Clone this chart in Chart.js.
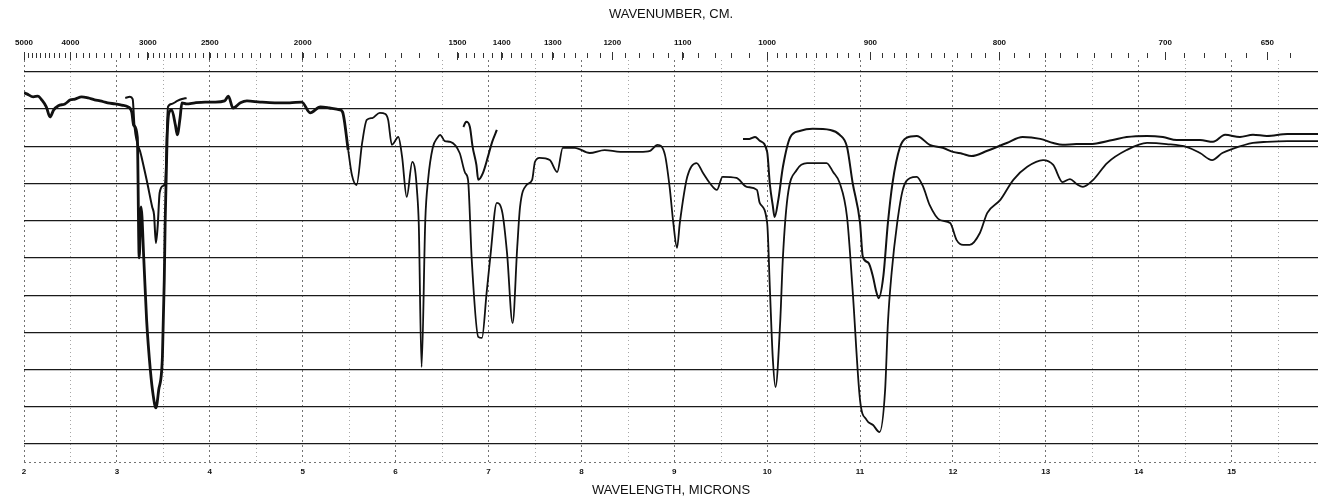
<!DOCTYPE html>
<html>
<head>
<meta charset="utf-8">
<script src="https://cdn.jsdelivr.net/npm/chart.js@4.4.1/dist/chart.umd.min.js"></script>
<style>
  html, body { margin: 0; padding: 0; background: #fff; }
  #wrap { width: 1321px; height: 501px; }
</style>
</head>
<body>
<div id="wrap"><canvas id="ir-chart" width="1321" height="501"></canvas></div>
<script>
// axis ticks
const wavelengthTicks = [2, 3, 4, 5, 6, 7, 8, 9, 10, 11, 12, 13, 14, 15];
const wavenumberLabels = [5000, 4000, 3000, 2500, 2000, 1500, 1400, 1300, 1200, 1100, 1000, 900, 800, 700, 650];
const transmittanceLines = [0, 10, 20, 30, 40, 50, 60, 70, 80, 90, 100];

// main trace (wavelength in microns, transmittance %)
const mainMicrons = [2.00, 2.03, 2.10, 2.15, 2.19, 2.24, 2.28, 2.32, 2.37, 2.44, 2.50, 2.55, 2.62, 2.69, 2.76, 2.82, 2.90, 2.98, 3.05, 3.12,
  3.16, 3.18, 3.22, 3.24, 3.26, 3.29, 3.32, 3.36, 3.39, 3.42, 3.45, 3.49, 3.51, 3.52, 3.54, 3.56, 3.59, 3.63, 3.65, 3.68,
  3.70, 3.75, 3.84, 3.95, 4.06, 4.16, 4.20, 4.25, 4.33, 4.40, 4.54, 4.70, 4.86, 4.99, 5.08, 5.19, 5.29, 5.40, 5.43, 5.49,
  5.53, 5.58, 5.64, 5.69, 5.75, 5.83, 5.89, 5.92, 5.96, 6.03, 6.07, 6.12, 6.18, 6.21, 6.23, 6.25, 6.28, 6.32, 6.35, 6.40,
  6.45, 6.48, 6.53, 6.59, 6.69, 6.75, 6.78, 6.82, 6.89, 6.93, 6.98, 7.02, 7.09, 7.15, 7.20, 7.26, 7.31, 7.34, 7.41, 7.47,
  7.50, 7.55, 7.66, 7.74, 7.80, 7.93, 8.09, 8.25, 8.42, 8.63, 8.74, 8.82, 8.90, 8.95, 8.99, 9.03, 9.06, 9.14, 9.24, 9.31,
  9.38, 9.46, 9.52, 9.67, 9.78, 9.89, 9.92, 10.00, 10.03, 10.06, 10.09, 10.14, 10.17, 10.22, 10.32, 10.43, 10.64, 10.71, 10.78, 10.86,
  10.92, 11.00, 11.07, 11.14, 11.21, 11.27, 11.30, 11.34, 11.40, 11.46, 11.54, 11.61, 11.68, 11.75, 11.86, 11.97, 12.04, 12.11, 12.18, 12.29,
  12.37, 12.51, 12.65, 12.80, 12.97, 13.08, 13.18, 13.26, 13.33, 13.40, 13.51, 13.66, 13.87, 14.09, 14.30, 14.52, 14.66, 14.79, 14.90, 15.01,
  15.23, 15.38, 15.60, 15.93];
const mainPercent = [94.4, 94.1, 93.3, 93.5, 92.5, 90.6, 87.9, 89.8, 90.9, 91.4, 92.5, 92.7, 93.3, 93.0, 92.5, 92.2, 91.7, 91.4, 91.1, 90.6,
  89.2, 85.7, 82.5, 50.0, 63.7, 49.5, 33.3, 19.9, 13.2, 9.7, 14.5, 23.4, 44.1, 60.2, 81.7, 89.0, 89.8, 85.7, 83.1, 87.6,
  91.7, 91.4, 91.7, 91.9, 91.9, 92.2, 93.5, 90.3, 91.7, 92.2, 91.9, 91.7, 91.7, 91.9, 89.0, 90.6, 90.3, 89.8, 89.2, 79.0,
  72.3, 69.6, 80.9, 87.1, 87.6, 89.0, 88.7, 87.1, 80.4, 82.5, 77.2, 66.4, 75.8, 73.7, 68.3, 58.9, 20.7, 60.2, 71.0, 79.6,
  82.3, 83.1, 81.4, 81.2, 78.2, 72.8, 71.0, 49.5, 28.8, 28.5, 40.6, 50.3, 64.8, 62.1, 51.3, 32.5, 53.0, 63.7, 69.6, 71.0,
  75.8, 76.9, 76.3, 73.1, 79.6, 79.6, 78.2, 79.0, 78.5, 78.5, 78.8, 80.4, 77.7, 69.1, 59.4, 52.7, 59.4, 71.8, 75.5, 72.8,
  70.2, 68.3, 71.8, 71.5, 69.1, 68.3, 64.8, 59.4, 41.4, 23.4, 15.3, 32.5, 50.3, 66.4, 73.7, 75.5, 75.5, 73.1, 70.2, 61.0,
  41.4, 11.8, 6.5, 5.1, 3.2, 14.5, 32.5, 46.0, 59.4, 68.3, 71.5, 71.8, 69.1, 64.2, 60.2, 59.4, 54.8, 53.5, 53.5, 56.7,
  62.1, 65.6, 71.0, 74.5, 76.3, 75.0, 70.4, 71.2, 69.9, 69.1, 71.0, 75.5, 79.0, 80.9, 80.6, 79.8, 78.2, 76.3, 78.2, 79.3,
  80.9, 81.2, 81.4, 81.4];

// second trace, recorded in three pieces
const upperAMicrons = [3.09, 3.14, 3.17, 3.19, 3.26, 3.32, 3.38, 3.40, 3.42, 3.44, 3.46, 3.50, 3.52, 3.55, 3.59, 3.65, 3.70, 3.75];
const upperAPercent = [93.0, 93.3, 92.7, 85.2, 77.7, 71.0, 63.7, 61.6, 54.0, 58.9, 67.5, 69.4, 70.2, 90.6, 91.4, 92.2, 92.7, 93.0];

const upperBMicrons = [6.73, 6.76, 6.80, 6.83, 6.87, 6.89, 6.94, 7.00, 7.04, 7.09];
const upperBPercent = [85.2, 86.6, 85.2, 79.8, 75.0, 71.0, 72.8, 77.7, 81.2, 84.4];

const upperCMicrons = [9.74, 9.81, 9.87, 9.92, 10.00, 10.03, 10.06, 10.08, 10.12, 10.17, 10.25, 10.35, 10.49, 10.68, 10.78, 10.86, 10.92, 11.00,
  11.03, 11.09, 11.14, 11.17, 11.20, 11.25, 11.30, 11.35, 11.43, 11.50, 11.61, 11.75, 11.89, 12.00, 12.10, 12.20, 12.37, 12.58,
  12.75, 12.94, 13.08, 13.18, 13.33, 13.47, 13.72, 13.87, 14.09, 14.26, 14.41, 14.66, 14.80, 14.93, 15.09, 15.23, 15.38, 15.60, 15.93];
const upperCPercent = [82.0, 82.0, 82.5, 81.5, 78.5, 69.6, 64.2, 61.0, 65.6, 74.5, 82.5, 84.1, 84.7, 84.4, 83.1, 79.8, 70.2, 59.4,
  50.3, 48.7, 44.9, 41.4, 39.2, 44.9, 59.4, 70.2, 79.8, 82.3, 82.8, 80.4, 79.6, 78.5, 78.0, 77.4, 78.8, 80.9,
  82.5, 82.0, 80.9, 80.4, 80.6, 80.6, 81.7, 82.5, 82.8, 82.5, 81.7, 81.7, 81.2, 83.1, 82.5, 83.1, 82.8, 83.3, 83.3];

const X_MIN = 2, X_MAX = 15.93;
const FONT = "'Liberation Sans', Arial, sans-serif";
const INK = '#111';

const pts = (xs, ys) => xs.map((x, i) => ({ x: x, y: ys[i] }));

const traceStyle = {
  borderColor: INK,
  borderWidth: 2,
  pointRadius: 0,
  fill: false,
  cubicInterpolationMode: 'monotone'
};

// half-micron dotted lines, minor wavenumber ticks, bottom dotted rule
const chartDecor = {
  id: 'chartDecor',
  beforeDatasetsDraw(chart) {
    const { ctx, chartArea: a, scales } = chart;
    const x = scales.x;
    ctx.save();
    ctx.strokeStyle = 'rgba(0,0,0,0.35)';
    ctx.lineWidth = 1;
    ctx.setLineDash([1, 3]);
    for (let m = 2.5; m < X_MAX; m += 1) {
      const px = Math.round(x.getPixelForValue(m)) + 0.5;
      ctx.beginPath();
      ctx.moveTo(px, a.top);
      ctx.lineTo(px, a.bottom);
      ctx.stroke();
    }
    ctx.strokeStyle = 'rgba(0,0,0,0.55)';
    ctx.setLineDash([2, 3]);
    ctx.beginPath();
    ctx.moveTo(a.left, a.bottom + 0.5);
    ctx.lineTo(a.right, a.bottom + 0.5);
    ctx.stroke();
    ctx.setLineDash([]);
    ctx.strokeStyle = '#333';
    const minor = [];
    for (let w = 5000; w > 3000; w -= 100) minor.push(w);
    for (let w = 3000; w > 2000; w -= 50) minor.push(w);
    for (let w = 2000; w > 1500; w -= 50) minor.push(w);
    for (let w = 1500; w > 1000; w -= 20) minor.push(w);
    for (let w = 1000; w >= 640; w -= 10) minor.push(w);
    minor.forEach(w => {
      const m = 10000 / w;
      if (m < X_MIN || m > X_MAX) return;
      const px = Math.round(x.getPixelForValue(m)) + 0.5;
      ctx.beginPath();
      ctx.moveTo(px, a.top - 7);
      ctx.lineTo(px, a.top - 2);
      ctx.stroke();
    });
    ctx.restore();
  }
};

new Chart(document.getElementById('ir-chart'), {
  type: 'line',
  data: {
    datasets: [
      Object.assign({ label: 'Main', data: pts(mainMicrons, mainPercent),
        segment: { borderWidth: c => (c.p0.parsed.x < 5.45 ? 2.8 : 1.8) } }, traceStyle),
      Object.assign({ label: 'Upper A', data: pts(upperAMicrons, upperAPercent) }, traceStyle),
      Object.assign({ label: 'Upper B', data: pts(upperBMicrons, upperBPercent), borderWidth: 2.4 }, traceStyle),
      Object.assign({ label: 'Upper C', data: pts(upperCMicrons, upperCPercent) }, traceStyle)
    ]
  },
  options: {
    responsive: false,
    animation: false,
    layout: { padding: { left: 0, right: 3, top: 0, bottom: 0 } },
    plugins: { legend: { display: false }, tooltip: { enabled: false } },
    scales: {
      x: {
        type: 'linear',
        position: 'bottom',
        min: X_MIN,
        max: X_MAX,
        afterBuildTicks: s => { s.ticks = wavelengthTicks.map(v => ({ value: v })); },
        afterFit: s => { s.height = 39; },
        ticks: { autoSkip: false, maxRotation: 0, padding: 5, color: INK,
          font: { family: FONT, size: 8, weight: 'bold' } },
        grid: { drawTicks: false, color: 'rgba(0,0,0,0.55)', lineWidth: 1 },
        border: { display: false, dash: [2, 3] },
        title: { display: true, text: 'WAVELENGTH, MICRONS', color: INK,
          font: { family: FONT, size: 13 }, padding: { top: 0, bottom: 3 } }
      },
      x2: {
        type: 'linear',
        position: 'top',
        min: X_MIN,
        max: X_MAX,
        afterBuildTicks: s => { s.ticks = wavenumberLabels.map(w => ({ value: 10000 / w })); },
        afterFit: s => { s.height = 60; },
        ticks: { autoSkip: false, maxRotation: 0, padding: 4, color: INK,
          font: { family: FONT, size: 8, weight: 'bold' },
          callback: (v, i) => wavenumberLabels[i] },
        grid: { drawOnChartArea: false, drawTicks: true, tickLength: 8, color: '#333' },
        border: { display: false },
        title: { display: true, text: 'WAVENUMBER, CM.', color: INK,
          font: { family: FONT, size: 13 }, padding: { top: 7, bottom: 0 } }
      },
      y: {
        min: -4.84,
        max: 103.2,
        afterBuildTicks: s => { s.ticks = transmittanceLines.map(v => ({ value: v })); },
        afterFit: s => { s.width = 24; },
        ticks: { display: false },
        grid: { drawTicks: false, color: '#1a1a1a', lineWidth: 1.3 },
        border: { display: false }
      }
    }
  },
  plugins: [chartDecor]
});
</script>
</body>
</html>
